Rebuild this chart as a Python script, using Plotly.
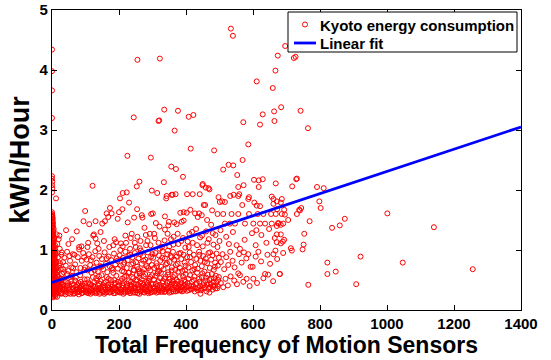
import plotly.graph_objects as go

# ---- data (kWh/Hour vs total motion-sensor frequency) ----
strip_pts = [
    (0, 4.34), (0, 3.98), (0, 3.66), (0, 3.20), (0, 2.23), (0, 2.19), (1, 2.14), (0, 2.08), (1, 2.03),
    (0, 1.96), (12, 1.86), (0, 1.63), (1, 1.58), (0, 1.55), (2, 1.50), (0, 1.47), (1, 1.43), (3, 1.40),
    (0, 1.37), (2, 1.33), (0, 1.30), (4, 1.27), (1, 1.24), (0, 1.21), (3, 1.18), (5, 1.15), (1, 1.12),
    (0, 1.09), (6, 1.06), (2, 1.03), (8, 1.00), (0, 0.97), (4, 0.95), (10, 0.92), (1, 0.89), (6, 0.86),
    (3, 0.83), (12, 0.81), (0, 0.78), (8, 0.75), (2, 0.72), (14, 0.70), (5, 0.67), (0, 0.64), (10, 0.61),
    (3, 0.58), (16, 0.56), (1, 0.53), (7, 0.50), (12, 0.48), (0, 0.45), (4, 0.43), (18, 0.41), (9, 0.39),
    (2, 0.37), (14, 0.35), (6, 0.33), (0, 0.31), (11, 0.29), (3, 0.27), (8, 0.25), (1, 0.23), (15, 0.22),
    (5, 1.35), (2, 1.28), (7, 1.20), (3, 1.13), (9, 1.08), (5, 0.99), (11, 0.94), (2, 0.90), (7, 0.84),
    (13, 0.79), (4, 0.76), (9, 0.69), (15, 0.63), (6, 0.59), (20, 0.55), (3, 0.51), (17, 0.46), (10, 0.44),
    (22, 0.40), (5, 0.36), (19, 0.32), (12, 0.30), (25, 0.37), (28, 0.45), (24, 0.52), (30, 0.60),
    (26, 0.68), (21, 0.74), (33, 0.80), (18, 0.88), (29, 0.96), (23, 1.02), (31, 0.42), (35, 0.34),
    (27, 0.28), (16, 1.10), (20, 1.18), (14, 1.26), (0, 1.60), (1, 1.52), (0, 1.40), (2, 0.62),
]

strip2_pts = [
    (0, 1.57), (2, 1.54), (1, 1.48), (3, 1.45), (0, 1.42), (2, 1.38), (4, 1.32), (1, 1.29), (3, 1.25),
    (0, 1.23), (5, 1.19), (2, 1.16), (1, 1.10), (4, 1.07), (0, 1.04), (3, 1.01), (6, 0.98), (1, 0.96),
    (5, 0.93), (2, 0.91), (8, 0.87), (0, 0.85), (4, 0.82), (7, 0.80), (1, 0.77), (10, 0.73), (3, 0.71),
    (6, 0.68), (0, 0.66), (9, 0.65), (4, 0.62), (12, 0.60), (1, 0.57), (7, 0.55), (3, 0.52), (13, 0.50),
    (0, 0.49), (5, 0.47), (9, 0.45), (2, 0.42), (15, 0.43), (6, 0.40), (0, 0.38), (11, 0.37), (4, 0.34),
    (8, 0.32), (1, 0.30), (13, 0.27), (5, 0.26), (0, 0.24), (10, 0.23), (3, 0.21), (7, 0.28), (16, 0.38),
    (14, 0.52), (17, 0.66), (11, 0.78), (19, 0.48), (22, 0.35), (9, 0.96),
]

band_pts = [
    (22, 0.31), (25, 0.44), (28, 0.27), (31, 0.38), (34, 0.52), (36, 0.33), (39, 0.29), (41, 0.47),
    (44, 0.36), (46, 0.41), (49, 0.28), (51, 0.34), (54, 0.55), (57, 0.30), (59, 0.43), (62, 0.37),
    (64, 0.27), (67, 0.32), (69, 0.49), (72, 0.39), (74, 0.29), (77, 0.35), (79, 0.45), (82, 0.31),
    (84, 0.58), (87, 0.40), (89, 0.28), (92, 0.36), (94, 0.33), (97, 0.51), (99, 0.30), (45, 0.60),
    (60, 0.57), (80, 0.26), (90, 0.43),
    (102, 0.38), (104, 0.29), (107, 0.33), (109, 0.46), (112, 0.31), (115, 0.27), (117, 0.42),
    (120, 0.35), (122, 0.55), (125, 0.30), (128, 0.39), (130, 0.28), (133, 0.36), (135, 0.49),
    (138, 0.32), (141, 0.44), (143, 0.29), (146, 0.37), (148, 0.58), (151, 0.31), (154, 0.41),
    (156, 0.27), (159, 0.34), (161, 0.47), (164, 0.30), (167, 0.38), (169, 0.52), (172, 0.29),
    (175, 0.35), (177, 0.43), (180, 0.31), (183, 0.62), (185, 0.37), (188, 0.28), (190, 0.45),
    (193, 0.33), (196, 0.40), (198, 0.30), (140, 0.56), (186, 0.50),
    (201, 0.36), (203, 0.29), (206, 0.48), (208, 0.33), (211, 0.41), (213, 0.27), (216, 0.55),
    (218, 0.31), (221, 0.38), (223, 0.44), (226, 0.30), (228, 0.62), (231, 0.35), (233, 0.28),
    (236, 0.47), (238, 0.40), (241, 0.32), (243, 0.53), (246, 0.36), (248, 0.29), (251, 0.43),
    (253, 0.58), (256, 0.33), (258, 0.38), (261, 0.27), (263, 0.46), (266, 0.31), (268, 0.51),
    (271, 0.35), (273, 0.42), (276, 0.29), (278, 0.60), (281, 0.37), (283, 0.32), (286, 0.45),
    (288, 0.28), (291, 0.39), (293, 0.55), (296, 0.34), (298, 0.30), (215, 0.64), (245, 0.66),
    (270, 0.63), (289, 0.49), (260, 0.54),
    (301, 0.43), (304, 0.31), (306, 0.36), (309, 0.57), (312, 0.29), (314, 0.40), (317, 0.48),
    (319, 0.33), (322, 0.38), (325, 0.62), (327, 0.30), (330, 0.45), (332, 0.35), (335, 0.52),
    (338, 0.31), (340, 0.41), (343, 0.37), (346, 0.59), (348, 0.32), (351, 0.47), (353, 0.39),
    (356, 0.30), (359, 0.44), (361, 0.55), (364, 0.34), (367, 0.40), (369, 0.31), (372, 0.50),
    (375, 0.36), (377, 0.64), (380, 0.33), (383, 0.43), (385, 0.38), (388, 0.31), (391, 0.56),
    (393, 0.41), (396, 0.35), (398, 0.47), (357, 0.66), (320, 0.65),
    (402, 0.38), (405, 0.45), (409, 0.33), (412, 0.58), (416, 0.40), (419, 0.35), (423, 0.50),
    (426, 0.31), (430, 0.43), (433, 0.62), (437, 0.37), (440, 0.47), (444, 0.33), (447, 0.55),
    (451, 0.41), (454, 0.36), (458, 0.49), (461, 0.31), (465, 0.59), (468, 0.44), (472, 0.38),
    (475, 0.52), (479, 0.34), (482, 0.47), (486, 0.41), (489, 0.57), (493, 0.36), (496, 0.50),
    (470, 0.29), (443, 0.27),
    (504, 0.45), (511, 0.38), (518, 0.52), (525, 0.41), (533, 0.56), (544, 0.49), (552, 0.43),
    (561, 0.58), (571, 0.47), (581, 0.52), (590, 0.40), (601, 0.52), (612, 0.45), (631, 0.53),
    (645, 0.59), (660, 0.48), (680, 0.60), (556, 0.61),
]

band2_pts = [
    (23, 0.36), (27, 0.49), (30, 0.29), (33, 0.42), (38, 0.35), (40, 0.26), (43, 0.31), (48, 0.45),
    (52, 0.39), (55, 0.27), (58, 0.48), (61, 0.33), (65, 0.42), (68, 0.28), (71, 0.54), (73, 0.34),
    (76, 0.41), (78, 0.30), (83, 0.37), (86, 0.47), (88, 0.33), (91, 0.29), (95, 0.40), (98, 0.44),
    (101, 0.32), (105, 0.51), (108, 0.28), (111, 0.37), (113, 0.43), (116, 0.33), (119, 0.29),
    (123, 0.40), (126, 0.46), (129, 0.32), (132, 0.53), (134, 0.30), (137, 0.41), (139, 0.36),
    (142, 0.27), (145, 0.48), (147, 0.33), (150, 0.39), (153, 0.30), (155, 0.45), (158, 0.38),
    (160, 0.29), (163, 0.55), (166, 0.34), (168, 0.42), (171, 0.37), (174, 0.30), (176, 0.50),
    (179, 0.39), (182, 0.34), (184, 0.28), (187, 0.44), (189, 0.36), (192, 0.57), (195, 0.31),
    (197, 0.47),
    (200, 0.41), (204, 0.34), (207, 0.30), (209, 0.52), (212, 0.37), (214, 0.45), (217, 0.29),
    (220, 0.34), (222, 0.57), (225, 0.40), (227, 0.33), (229, 0.48), (232, 0.31), (234, 0.42),
    (237, 0.36), (239, 0.55), (242, 0.29), (244, 0.44), (247, 0.39), (249, 0.33), (252, 0.50),
    (255, 0.28), (257, 0.42), (259, 0.35), (262, 0.61), (264, 0.31), (267, 0.40), (269, 0.45),
    (272, 0.30), (274, 0.56), (277, 0.38), (279, 0.33), (282, 0.47), (284, 0.41), (287, 0.31),
    (290, 0.52), (292, 0.36), (294, 0.29), (297, 0.43), (299, 0.58),
    (303, 0.38), (305, 0.50), (308, 0.32), (310, 0.44), (313, 0.35), (315, 0.61), (318, 0.30),
    (321, 0.42), (323, 0.53), (326, 0.36), (329, 0.32), (331, 0.48), (334, 0.40), (336, 0.30),
    (339, 0.55), (342, 0.34), (344, 0.45), (347, 0.38), (350, 0.29), (352, 0.52), (355, 0.42),
    (358, 0.35), (360, 0.49), (363, 0.31), (366, 0.58), (368, 0.44), (371, 0.37), (374, 0.32),
    (376, 0.47), (379, 0.40), (381, 0.55), (384, 0.33), (387, 0.45), (389, 0.38), (392, 0.32),
    (395, 0.50), (397, 0.42), (399, 0.60),
    (403, 0.32), (407, 0.52), (410, 0.40), (414, 0.35), (418, 0.47), (421, 0.39), (425, 0.56),
    (428, 0.36), (432, 0.45), (435, 0.33), (439, 0.52), (442, 0.40), (446, 0.36), (449, 0.61),
    (453, 0.45), (456, 0.38), (460, 0.54), (463, 0.42), (467, 0.35), (470, 0.50), (474, 0.43),
    (477, 0.60), (481, 0.39), (484, 0.53), (488, 0.36), (491, 0.46), (495, 0.40), (498, 0.55),
]

mid_pts = [
    (24, 0.78), (28, 0.92), (33, 0.68), (37, 0.87), (41, 0.74), (45, 0.97), (49, 0.65), (54, 0.82),
    (58, 0.71), (62, 0.93), (67, 0.92), (69, 0.76), (73, 0.63), (77, 0.88), (81, 1.01), (85, 0.70),
    (89, 0.82), (93, 0.95), (97, 0.67), (99, 0.71),
    (103, 0.84), (106, 0.66), (110, 0.93), (114, 0.75), (118, 0.62), (121, 0.88), (125, 0.71),
    (129, 0.98), (133, 0.79), (137, 0.64), (141, 0.90), (145, 0.73), (149, 0.85), (153, 0.68),
    (157, 0.96), (161, 0.77), (165, 0.63), (169, 0.89), (173, 0.72), (177, 0.83), (181, 0.67),
    (185, 0.94), (189, 0.76), (193, 0.86), (197, 0.69),
    (202, 0.91), (205, 0.74), (209, 0.65), (212, 0.87), (216, 0.79), (219, 0.97), (223, 0.70),
    (226, 0.83), (230, 0.62), (233, 0.92), (237, 0.76), (240, 0.88), (244, 0.67), (247, 0.95),
    (251, 0.80), (254, 0.72), (258, 0.86), (261, 0.64), (265, 0.99), (268, 0.77), (272, 0.90),
    (275, 0.68), (279, 0.84), (282, 0.73), (286, 0.96), (289, 0.81), (293, 0.66), (296, 0.89),
    (298, 0.75), (263, 0.93),
    (302, 0.87), (305, 0.70), (309, 0.95), (312, 0.78), (316, 0.64), (319, 0.91), (323, 0.82),
    (326, 0.72), (330, 0.98), (333, 0.68), (337, 0.86), (340, 0.76), (344, 0.93), (347, 0.63),
    (351, 0.80), (354, 0.90), (358, 0.71), (361, 0.97), (365, 0.84), (368, 0.67), (372, 0.89),
    (375, 0.77), (379, 0.94), (382, 0.70), (386, 0.85), (389, 0.65), (393, 0.92), (396, 0.79),
    (399, 0.74), (346, 0.99),
    (403, 0.88), (407, 0.71), (411, 0.96), (415, 0.80), (419, 0.66), (423, 0.92), (427, 0.75),
    (431, 0.85), (435, 0.69), (439, 0.97), (443, 0.82), (447, 0.73), (451, 0.90), (455, 0.64),
    (459, 0.86), (463, 0.78), (467, 0.95), (471, 0.70), (475, 0.84), (479, 0.91), (483, 0.67),
    (487, 0.79), (491, 0.94), (495, 0.74), (498, 0.87),
    (504, 0.80), (509, 0.93), (514, 0.68), (520, 0.88), (526, 0.75), (532, 0.97), (539, 0.82),
    (545, 0.71), (551, 1.08), (558, 0.93), (566, 0.79), (573, 0.96), (580, 0.86), (586, 0.93),
    (593, 0.72), (599, 0.72), (608, 0.89), (616, 0.97), (624, 0.81), (636, 0.60), (643, 0.92),
    (651, 0.77), (661, 0.93), (672, 0.85), (690, 0.95),
]

mid2_pts = [
    (35, 0.63), (52, 0.90), (63, 0.70), (88, 1.06), (96, 0.88), (108, 1.12), (116, 0.83), (127, 0.66),
    (139, 1.02), (148, 0.72), (155, 1.15), (163, 0.86), (171, 1.05), (179, 0.70), (187, 1.18),
    (195, 0.82), (204, 1.00), (213, 0.76), (221, 1.12), (228, 0.90), (235, 1.20), (242, 0.78),
    (250, 1.05), (257, 0.68), (264, 1.15), (273, 0.82), (280, 1.25), (287, 0.70), (294, 1.08),
    (300, 0.93), (307, 1.20), (313, 0.73), (322, 1.02), (329, 0.87), (336, 1.16), (343, 0.78),
    (350, 1.06), (357, 0.88), (363, 1.22), (370, 0.75), (377, 1.10), (384, 0.95), (391, 1.20),
    (397, 0.66), (405, 1.14), (412, 0.88), (418, 1.30), (425, 0.68), (433, 1.08), (440, 0.92),
    (448, 1.24), (456, 0.80), (464, 1.12), (472, 0.96), (480, 1.28), (486, 0.72), (494, 1.05),
    (500, 1.15),
]

upper_pts = [
    (22, 1.24), (42, 1.33), (49, 1.10), (74, 1.31), (81, 1.05), (99, 1.65), (94, 1.48), (60, 1.18),
    (106, 1.05), (111, 1.43), (123, 1.24), (125, 1.26), (130, 1.19), (130, 1.48), (135, 1.11),
    (145, 1.30), (150, 1.44), (158, 1.48), (163, 1.61), (168, 1.55), (173, 1.70), (178, 1.61),
    (183, 1.08), (191, 1.13), (196, 1.52), (200, 1.63),
    (203, 1.86), (211, 1.95), (210, 1.68), (206, 1.11), (211, 1.06), (226, 1.46), (230, 1.79),
    (245, 1.54), (254, 1.68), (268, 1.58), (270, 1.54), (276, 1.37), (238, 1.27), (255, 1.22),
    (262, 1.03), (285, 1.15), (292, 1.27), (296, 1.60), (281, 1.08), (247, 1.12), (219, 1.24),
    (233, 1.02),
    (301, 1.61), (321, 1.39), (337, 1.34), (337, 1.56), (341, 1.86), (347, 1.41), (349, 1.47),
    (357, 1.92), (365, 1.46), (369, 1.93), (372, 1.43), (383, 1.62), (387, 1.47), (393, 1.49),
    (393, 1.63), (305, 1.27), (318, 1.12), (328, 1.05), (345, 1.27), (355, 1.18), (362, 1.09),
    (375, 1.27), (386, 1.15), (398, 1.04), (310, 1.45),
    (402, 1.62), (413, 1.67), (420, 1.93), (427, 1.61), (435, 1.55), (439, 1.61), (441, 1.93),
    (447, 1.58), (453, 1.75), (457, 1.75), (497, 1.88), (494, 1.60), (410, 1.27), (420, 1.12),
    (430, 1.35), (442, 1.21), (450, 1.06), (460, 1.31), (468, 1.18), (475, 1.42), (482, 1.09),
    (488, 1.25), (463, 1.50), (408, 1.05), (478, 1.66),
    (501, 1.80), (508, 1.81), (511, 1.60), (516, 1.80), (516, 1.44), (531, 1.44), (532, 1.90),
    (536, 1.60), (542, 1.92), (546, 1.44), (556, 1.90), (556, 1.60), (559, 1.93), (568, 1.75),
    (576, 1.44), (586, 1.85), (588, 1.88), (588, 1.60), (503, 1.33), (520, 1.22), (528, 1.10),
    (540, 1.30), (561, 1.02), (575, 1.17), (597, 1.28),
    (601, 1.44), (604, 1.79), (611, 1.74), (614, 1.60), (621, 1.73), (621, 1.44), (631, 1.60),
    (636, 1.44), (654, 1.60), (656, 1.89), (656, 1.44), (661, 1.85), (661, 1.77), (668, 1.60),
    (671, 1.81), (676, 1.44), (686, 1.85), (686, 1.60), (690, 1.44), (610, 1.33), (625, 1.25),
    (640, 1.12), (648, 1.35), (665, 1.20), (608, 1.08),
]

sparse_pts = [
    (255, 4.17), (322, 4.19), (534, 4.69), (540, 4.57),
    (244, 3.21), (335, 3.34), (376, 3.32), (318, 3.15), (320, 3.16), (366, 2.99), (408, 3.22),
    (422, 3.25), (225, 2.57), (295, 2.54), (414, 2.69), (484, 2.66), (356, 2.39), (370, 2.35),
    (391, 2.22), (511, 2.34), (527, 2.42), (541, 2.41), (553, 2.25), (569, 2.50), (586, 2.76),
    (571, 3.13), (611, 3.81), (621, 3.09), (629, 3.26), (659, 3.70), (667, 3.99), (663, 3.31),
    (664, 3.15), (603, 2.17), (617, 2.16), (629, 2.18), (261, 2.14), (334, 2.13),
    (696, 4.40), (674, 4.24), (722, 4.20), (727, 4.22), (684, 3.38), (742, 3.32), (764, 3.03),
    (729, 2.18), (731, 2.19), (253, 2.06), (298, 1.99), (314, 1.95), (223, 1.96), (449, 2.08),
    (459, 2.04), (467, 2.03), (556, 2.05), (572, 2.08), (617, 2.05), (668, 2.11), (121, 2.07),
    (342, 1.90), (360, 1.92), (450, 2.10), (470, 2.01), (403, 1.93),
]

right_pts = [
    (717, 2.06), (791, 2.05), (811, 2.03), (798, 1.81), (802, 1.70), (874, 1.52), (859, 1.41),
    (836, 1.37), (1001, 1.61), (1140, 1.38), (769, 1.48), (753, 1.27), (751, 1.09), (748, 1.01),
    (713, 1.03), (716, 0.99), (921, 0.89), (822, 0.79), (1047, 0.79), (1256, 0.68), (847, 0.64),
    (822, 0.60), (908, 0.43), (765, 0.42), (680, 0.60), (731, 1.60), (738, 1.67), (744, 1.70),
    (740, 1.66), (695, 1.59), (705, 1.50), (693, 1.67), (683, 1.79), (672, 1.68), (675, 1.45),
    (683, 1.42), (671, 1.40), (683, 1.26), (671, 1.26), (693, 1.17), (689, 1.14), (683, 1.11),
    (671, 1.13), (667, 0.99),
]

fit_x = [0, 1400]
fit_y = [0.46, 3.05]

x_ticks = [0, 200, 400, 600, 800, 1000, 1200, 1400]
y_ticks = [0, 1, 2, 3, 4, 5]

series_name = "Kyoto energy consumption"
fit_name = "Linear fit"

all_pts = (strip_pts + strip2_pts + band_pts + band2_pts + mid_pts + mid2_pts
           + upper_pts + sparse_pts + right_pts)
xs = [p[0] for p in all_pts]
ys = [p[1] for p in all_pts]

FONT = "Liberation Sans, Arial, Helvetica, sans-serif"
RED = "#ff0000"
BLUE = "#0000ff"

# plot-area geometry (pixels) used to place the MATLAB-style legend box
W, H = 551, 360
ML, MR, MT, MB = 52, 30, 10, 50
PW, PH = W - ML - MR, H - MT - MB


def px(xp):
    return (xp - ML) / PW


def py(yp):
    return (H - MB - yp) / PH


fig = go.Figure()
fig.add_trace(go.Scatter(
    x=xs, y=ys, mode="markers", name=series_name,
    marker=dict(symbol="circle-open", size=5, color=RED, line=dict(width=1, color=RED)),
))
fig.add_trace(go.Scatter(
    x=fit_x, y=fit_y, mode="lines", name=fit_name,
    line=dict(color=BLUE, width=2.8),
))

axis_common = dict(
    showline=True, linecolor="black", linewidth=1.3, mirror="ticks",
    ticks="inside", ticklen=5, tickwidth=1, tickcolor="black",
    showgrid=False, zeroline=False, ticklabeloverflow="allow",
    tickfont=dict(family=FONT, size=15, color="black", weight="bold"),
)

fig.update_xaxes(range=[0, 1400], tickvals=x_ticks, **axis_common,
                 title=dict(text="Total Frequency of Motion Sensors",
                            font=dict(family=FONT, size=23, color="black", weight="bold"),
                            standoff=0))
fig.update_yaxes(range=[0, 5], tickvals=y_ticks, **axis_common,
                 title=dict(text="kWh/Hour",
                            font=dict(family=FONT, size=27, color="black", weight="bold"),
                            standoff=2))

# legend box (MATLAB style, drawn compactly)
leg_shapes = [
    dict(type="rect", xref="paper", yref="paper",
         x0=px(288), x1=px(517), y0=py(52), y1=py(12),
         line=dict(color="black", width=1), fillcolor="white", layer="above"),
    dict(type="circle", xref="paper", yref="paper",
         x0=px(302.5), x1=px(307.5), y0=py(27), y1=py(22),
         line=dict(color=RED, width=1), layer="above"),
    dict(type="line", xref="paper", yref="paper",
         x0=px(294), x1=px(316), y0=py(43), y1=py(43),
         line=dict(color=BLUE, width=2.8), layer="above"),
]
leg_annots = [
    dict(xref="paper", yref="paper", x=px(318), y=py(25), xanchor="left", yanchor="middle",
         text=series_name, showarrow=False,
         font=dict(family=FONT, size=15, color="black", weight="bold")),
    dict(xref="paper", yref="paper", x=px(318), y=py(43.5), xanchor="left", yanchor="middle",
         text=fit_name, showarrow=False,
         font=dict(family=FONT, size=15, color="black", weight="bold")),
]

fig.update_layout(
    width=W, height=H,
    margin=dict(l=ML, r=MR, t=MT, b=MB, autoexpand=False),
    paper_bgcolor="white", plot_bgcolor="white",
    showlegend=False,
    shapes=leg_shapes, annotations=leg_annots,
)

fig.write_html("out.html")
